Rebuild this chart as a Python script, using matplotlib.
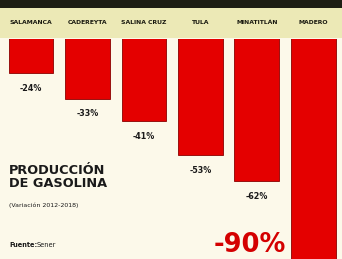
import matplotlib
matplotlib.use("Agg")
import matplotlib.pyplot as plt
from matplotlib.patches import Rectangle

plants = ["SALAMANCA", "CADEREYTA", "SALINA CRUZ", "TULA", "MINATITLÁN", "MADERO"]
changes = [-24, -33, -41, -53, -62, -90]
labels = ["-24%", "-33%", "-41%", "-53%", "-62%", "-90%"]

W, H = 342, 259
fig = plt.figure(figsize=(W / 100, H / 100), dpi=100)
bg = "#fcf9ea"
fig.patch.set_facecolor(bg)

font = ["DejaVu Sans"]

# header strip and band
fig.add_artist(Rectangle((0, 1 - 8 / H), 1, 8 / H, transform=fig.transFigure,
                         facecolor="#1e1e14", edgecolor="none"))
fig.add_artist(Rectangle((0, 1 - 38 / H), 1, 30 / H, transform=fig.transFigure,
                         facecolor="#ece9b6", edgecolor="none"))

ax = fig.add_axes([0, 0, 1, 220 / H])
ax.set_facecolor(bg)
x = list(range(len(plants)))
ax.bar(x, changes, width=0.79, color="#e40000", edgecolor="#8a0000", linewidth=0.6)
ax.set_xlim(-0.55, 5.51)
ax.set_ylim(-89.5, -12)
for s in ax.spines.values():
    s.set_visible(False)
ax.set_xticks([])
ax.set_yticks([])

for xi, v, lab in zip(x[:-1], changes[:-1], labels[:-1]):
    ax.annotate(lab, (xi, v), xytext=(0, -11), textcoords="offset points",
                ha="center", va="center", fontsize=5.8, fontweight="bold",
                family=font, color="#1a1a1a")
fig.text(250 / W, 1 - 258 / H, labels[-1], ha="center", va="bottom", fontsize=18.5,
         fontweight="bold", family=font, color="#d40000")

# header labels
for xi, name in zip(x, plants):
    xf = (xi + 0.55) / (5.51 + 0.55)
    fig.text(xf, 1 - 23 / H, name, ha="center", va="center", fontsize=4.4,
             fontweight="bold", family=font, color="#1a1a10")

fig.text(9 / W, 1 - 177 / H, "PRODUCCIÓN\nDE GASOLINA", ha="left", va="center",
         fontsize=9.3, fontweight="bold", color="#1a1a1a", linespacing=1.0)
fig.text(9 / W, 1 - 205 / H, "(Variación 2012-2018)", ha="left", va="center",
         fontsize=4.5, family=font, color="#1a1a1a")
fig.text(9 / W, 1 - 245 / H, "Fuente:", ha="left", va="center", fontsize=4.8,
         fontweight="bold", family=font, color="#1a1a1a")
fig.text(37 / W, 1 - 245 / H, "Sener", ha="left", va="center", fontsize=4.8,
         family=font, color="#1a1a1a")

fig.savefig("out.png", dpi=100, facecolor=bg)
